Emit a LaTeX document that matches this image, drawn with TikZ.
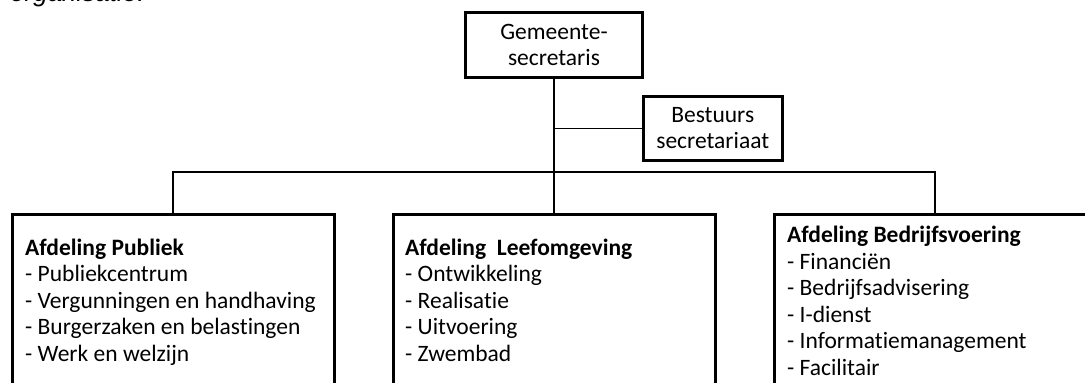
\documentclass[tikz,border=0pt]{standalone}
\usepackage{fontspec}
\setmainfont[Ligatures=NoCommon]{Carlito}
\newfontfamily\bodyfont{Liberation Sans}
\begin{document}
\begin{tikzpicture}[x=1pt,y=-1pt,
  unitbox/.style={draw, line width=3pt, rectangle, inner sep=0pt, align=center,
    font=\fontsize{23.5}{26}\selectfont},
  deptbox/.style={draw, line width=3pt, rectangle, inner sep=0pt,
    minimum width=322pt, minimum height=220pt, anchor=north},
  depttext/.style={anchor=north west, inner sep=0pt, align=left,
    font=\fontsize{23.5}{26.5}\selectfont},
  mainline/.style={line width=2pt},
  branch/.style={line width=1.4pt},
  busline/.style={line width=1.1pt}]
\useasboundingbox (0,0) rectangle (1085,383);
\clip (0,0) rectangle (1085,383);

% tail of the preceding sentence
\node[anchor=base west, inner sep=0pt, font=\bodyfont\itshape\fontsize{26}{30}\selectfont]
  (caption) at (10,1) {organisatie.};

% top of the hierarchy
\node[unitbox, minimum width=177pt, minimum height=65pt] (gs) at (554,45)
  {Gemeente-\\secretaris};
\node[unitbox, minimum width=138.5pt, minimum height=64pt] (bs) at (712.75,128.5)
  {Bestuurs\\secretariaat};

% departments
\node[deptbox] (pub) at (173,213) {};
\node[deptbox] (lfo) at (554,213) {};
\node[deptbox] (bvo) at (935,213) {};

\node[depttext] (pubtxt) at (25,236)
  {\rule{0pt}{19pt}\textbf{Afdeling Publiek}\\
   - Publiekcentrum\\
   - Vergunningen en handhaving\\
   - Burgerzaken en belastingen\\
   - Werk en welzijn};
\node[depttext] (lfotxt) at (405,236)
  {\rule{0pt}{19pt}\textbf{Afdeling\ \ Leefomgeving}\\
   - Ontwikkeling\\
   - Realisatie\\
   - Uitvoering\\
   - Zwembad};
\node[depttext] (bvotxt) at (787,223.5)
  {\rule{0pt}{19pt}\textbf{Afdeling Bedrijfsvoering}\\
   - Financiën\\
   - Bedrijfsadvisering\\
   - I-dienst\\
   - Informatiemanagement\\
   - Facilitair};

% connectors
\coordinate (busL) at (pub.north |- 0,172);
\coordinate (busR) at (bvo.north |- 0,172);
\coordinate (bsjoin) at (gs.south |- bs.west);
\draw[mainline] (gs.south) -- (lfo.north);
\draw[branch] (bsjoin) -- (bs.west);
\draw[busline] (pub.north) -- (busL) -- (busR) -- (bvo.north);
\end{tikzpicture}
\end{document}
